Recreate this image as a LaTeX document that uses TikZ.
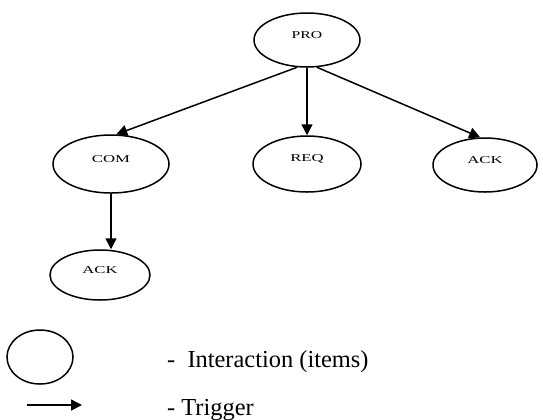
\documentclass[tikz,border=0pt]{standalone}
\usepackage{fontspec}
\setmainfont{Liberation Serif}
\usetikzlibrary{arrows.meta,shapes.geometric}
\begin{document}
\begin{tikzpicture}[x=1bp,y=-1bp,
  item/.style={draw,ellipse,line width=1.5bp,inner sep=0pt},
  lbl/.style={inner sep=0pt,yshift=5bp,font=\fontsize{10.5}{10.5}\selectfont},
  trig/.style={line width=1.5bp,-{Triangle[length=11bp,width=11bp]}},
  legtext/.style={anchor=base west,inner sep=0pt,font=\fontsize{24.5}{24.5}\selectfont}]
\useasboundingbox (0,0) rectangle (543,419);
\node[item,minimum width=106bp,minimum height=54bp,label={[lbl]center:\scalebox{1.5}[1]{PRO}}] (pro) at (307,40) {};
\node[item,minimum width=116bp,minimum height=58bp,label={[lbl]center:\scalebox{1.6}[1]{COM}}] (com) at (111,164) {};
\node[item,minimum width=108bp,minimum height=56bp,label={[lbl]center:\scalebox{1.6}[1]{REQ}}] (req) at (307,164) {};
\node[item,minimum width=104bp,minimum height=54bp,label={[lbl]center:\scalebox{1.6}[1]{ACK}}] (ackr) at (485,165) {};
\node[item,minimum width=100bp,minimum height=50bp,label={[lbl]center:\scalebox{1.6}[1]{ACK}}] (ackb) at (100,275) {};
\draw[trig] (pro.250) -- (com.80);
\draw[trig] (pro.south) -- (req.north);
\draw[trig] (pro.290) -- (ackr.100);
\draw[trig] (com.south) -- (ackb.north -| com.south);
% legend
\node[item,minimum width=66bp,minimum height=54bp] (legitem) at (40,357) {};
\coordinate (la) at (27,405);
\coordinate (lb) at (82,405);
\draw[trig] (la) -- (lb);
\node[legtext] (t1) at (167,367) {-\ \ Interaction (items)};
\node[legtext] (t2) at (167,415) {- Trigger};
\end{tikzpicture}
\end{document}
